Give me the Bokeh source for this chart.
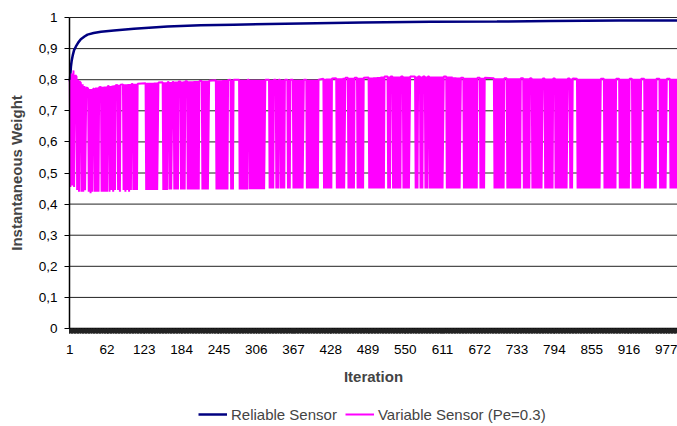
from bokeh.plotting import figure
from bokeh.models import FixedTicker, Range1d, Legend, LegendItem
from bokeh.embed import file_html
from bokeh.resources import INLINE

# ---- data ----
x_tick_labels = [1, 62, 123, 184, 245, 306, 367, 428, 489, 550, 611, 672, 733, 794, 855, 916, 977]
y_ticks = [0, 0.1, 0.2, 0.3, 0.4, 0.5, 0.6, 0.7, 0.8, 0.9, 1.0]
y_tick_labels = ["0", "0,1", "0,2", "0,3", "0,4", "0,5", "0,6", "0,7", "0,8", "0,9", "1"]
n_iterations = 1000

rel_iter = [1, 2, 3, 4, 6, 8, 11, 15, 19, 25, 30, 40, 52, 73, 106, 161, 215, 269, 379, 480, 592, 700, 788, 900, 1000]
rel_val = [0.795, 0.82, 0.845, 0.86, 0.88, 0.895, 0.907, 0.92, 0.93, 0.939, 0.945, 0.95, 0.954, 0.958, 0.964,
           0.971, 0.975, 0.977, 0.981, 0.984, 0.986, 0.987, 0.989, 0.99, 0.99]

var_points = [
    (1, .80), (2, .455), (4, .82), (5, .46), (7, .83), (8, .455), (10, .815),
    (12, .81), (13, .445), (15, .80), (16, .44), (17, .795),
    (19, .79), (20, .44), (22, .785), (23, .44), (25, .78), (26, .445), (28, .775),
    (31, .772), (32, .44), (34, .77), (35, .435), (37, .77), (38, .44), (39, .77),
    (41, .772), (42, .44), (44, .775), (45, .44), (47, .775), (48, .44), (49, .776),
    (52, .777), (53, .44), (55, .777), (56, .44), (58, .778), (59, .44), (61, .778), (62, .44), (63, .779),
    (65, .78), (66, .44), (68, .78), (69, .445), (71, .781), (72, .44), (74, .782), (75, .445), (76, .782),
    (79, .783), (80, .445), (82, .784), (83, .44), (84, .784),
    (88, .785), (89, .445), (91, .785), (92, .44), (94, .785), (95, .445), (97, .786), (98, .44), (100, .786), (101, .445), (102, .786),
    (104, .786), (105, .445), (107, .787), (108, .445), (110, .787), (111, .445), (112, .787),
    (125, .789), (126, .445), (128, .79), (129, .445), (131, .79), (132, .445), (134, .79), (135, .445), (137, .79), (138, .445),
    (140, .791), (141, .445), (143, .791), (144, .445), (146, .791),
    (153, .792), (154, .445), (156, .792), (157, .445), (159, .792), (160, .445), (161, .792),
    (163, .793), (164, .447), (166, .793), (167, .447), (169, .793),
    (171, .793), (172, .447), (174, .794), (175, .447), (177, .794), (178, .447), (179, .794),
    (182, .794), (183, .447), (185, .794), (186, .447), (188, .795), (189, .447), (190, .795),
    (193, .795), (194, .447), (196, .795), (197, .447), (199, .795), (200, .447), (202, .795), (203, .447), (205, .796), (206, .447),
    (208, .796), (209, .447), (211, .796), (212, .447), (213, .796),
    (217, .796), (218, .447), (220, .797), (221, .447), (223, .797), (224, .447), (226, .797), (227, .447), (229, .797),
    (240, .798), (241, .447), (243, .798), (244, .447), (246, .798), (247, .447), (249, .798), (250, .447), (252, .799), (253, .447),
    (255, .799), (256, .447), (258, .799), (259, .447), (260, .799),
    (264, .80), (265, .447), (267, .80), (268, .447), (269, .80),
    (278, .80), (279, .447), (281, .80), (282, .447), (284, .80), (285, .447), (287, .80), (288, .447), (290, .80), (291, .447), (292, .80),
    (294, .80), (295, .448), (297, .80), (298, .448), (300, .80), (301, .448), (303, .80), (304, .448), (306, .80), (307, .448),
    (309, .80), (310, .448), (312, .80), (313, .448), (315, .80), (316, .448), (318, .80), (319, .448), (321, .80),
    (327, .80), (328, .45), (330, .80), (331, .45), (333, .80), (334, .45), (335, .80),
    (338, .80), (339, .45), (341, .80), (342, .45), (343, .80),
    (345, .80), (346, .45), (348, .80), (349, .45), (351, .80), (352, .45), (353, .80),
    (357, .80), (358, .45), (360, .80), (361, .45), (362, .80),
    (366, .80), (367, .45), (369, .80), (370, .45), (372, .80), (373, .45), (375, .80), (376, .45), (378, .80), (379, .45),
    (381, .80), (382, .45), (384, .80), (388, .80), (389, .45), (391, .80), (392, .45), (394, .80), (395, .45), (397, .80),
    (398, .45), (400, .80), (401, .45), (403, .80), (404, .45), (406, .80), (407, .45), (408, .80),
    (416, .803), (417, .45), (419, .803), (420, .45), (422, .804), (423, .45), (425, .804), (426, .45), (428, .804), (429, .45), (430, .804),
    (437, .805), (438, .45), (440, .805), (441, .45), (443, .805), (444, .45), (446, .805), (447, .45), (449, .806), (450, .45), (452, .806),
    (456, .806), (457, .45), (459, .806), (460, .45), (462, .806), (463, .45), (465, .806), (466, .45), (467, .806),
    (471, .806), (472, .45), (474, .806), (475, .45), (477, .806), (478, .45), (480, .806), (481, .45), (482, .806),
    (490, .807), (491, .45), (493, .807), (494, .45), (496, .807), (497, .45), (499, .808), (500, .45), (502, .808), (503, .45),
    (505, .809), (506, .45), (508, .809), (509, .45), (511, .81), (512, .45), (514, .81), (515, .45), (516, .81),
    (521, .81), (522, .45), (524, .81), (525, .45), (526, .81),
    (529, .81), (530, .45), (532, .81), (533, .45), (535, .81), (536, .45), (538, .81), (539, .45), (541, .81), (542, .45), (543, .81),
    (546, .81), (547, .45), (549, .81), (550, .45), (552, .81), (553, .45), (555, .81), (556, .45), (558, .81),
    (566, .81), (567, .45), (569, .81), (570, .45), (571, .81),
    (574, .81), (575, .45), (577, .81), (578, .45), (579, .81),
    (582, .81), (583, .45), (585, .81), (586, .45), (587, .81),
    (589, .81), (590, .45), (592, .81), (593, .45), (595, .81), (596, .45), (598, .81), (599, .45), (601, .81), (602, .45),
    (604, .81), (605, .45), (607, .81), (608, .45), (610, .81), (611, .45), (613, .81), (617, .81), (618, .45), (620, .81),
    (621, .45), (623, .81), (624, .45), (626, .81), (627, .45), (629, .808), (630, .45), (632, .808), (633, .45), (635, .807),
    (636, .45), (638, .807), (639, .45), (641, .806),
    (645, .806), (646, .45), (648, .806), (649, .45), (651, .806), (652, .45), (654, .806), (655, .45), (657, .806), (658, .45),
    (660, .806), (661, .45), (663, .806), (664, .45), (666, .806), (667, .45), (668, .806), (672, .806), (673, .45), (675, .806),
    (676, .45), (678, .806), (679, .45), (680, .806),
    (695, .805), (696, .45), (698, .805), (699, .45), (701, .805), (702, .45), (704, .805), (705, .45), (707, .805), (708, .45),
    (710, .805), (711, .45), (712, .805), (716, .805), (717, .45), (719, .805), (720, .45), (722, .805), (723, .45), (725, .805),
    (726, .45), (728, .805), (729, .45), (731, .805), (732, .45), (734, .805), (735, .45), (737, .805), (738, .45), (739, .805),
    (743, .805), (744, .45), (746, .805), (747, .45), (749, .805), (750, .45), (752, .805), (753, .45), (754, .805),
    (757, .804), (758, .45), (760, .804), (761, .45), (763, .804), (764, .45), (766, .804), (767, .45), (769, .804), (770, .45),
    (772, .804), (773, .45), (775, .804),
    (778, .804), (779, .45), (781, .804), (782, .45), (784, .804), (785, .45), (787, .804), (788, .45), (790, .804), (791, .45), (792, .804),
    (795, .804), (796, .45), (798, .804), (799, .45), (801, .804), (802, .45), (804, .804), (805, .45), (807, .804), (808, .45),
    (810, .804), (811, .45), (813, .804), (814, .45), (816, .804),
    (819, .804), (820, .45), (822, .804), (823, .45), (824, .804),
    (831, .803), (832, .45), (834, .803), (835, .45), (837, .803), (838, .45), (840, .803), (841, .45), (843, .803), (844, .45),
    (846, .803), (847, .45), (849, .803), (850, .45), (852, .803), (853, .45), (855, .803), (856, .45), (858, .803), (859, .45),
    (861, .803), (862, .45), (864, .803), (865, .45), (867, .803), (868, .45), (870, .803),
    (875, .803), (876, .45), (878, .803), (879, .45), (881, .803), (882, .45), (884, .803), (885, .45), (887, .803), (888, .45),
    (890, .803), (891, .45), (893, .803), (894, .45), (895, .803),
    (900, .803), (901, .45), (903, .803), (904, .45), (906, .803), (907, .45), (909, .803), (910, .45), (912, .803), (913, .45),
    (915, .803), (916, .45), (917, .803),
    (921, .803), (922, .45), (924, .803), (925, .45), (927, .803), (928, .45), (930, .803), (931, .45), (933, .803), (934, .45), (936, .803),
    (941, .803), (942, .45), (944, .803), (945, .45), (947, .803), (948, .45), (950, .803), (951, .45), (953, .803), (954, .45),
    (956, .803), (957, .45), (959, .803), (960, .45), (961, .803),
    (966, .803), (967, .45), (969, .803), (970, .45), (972, .803), (973, .45), (975, .803), (976, .45), (978, .803),
    (983, .803), (984, .45), (986, .803), (987, .45), (989, .803), (990, .45), (992, .803), (993, .45), (995, .803), (996, .45),
    (998, .803), (1000, .803),
]
var_iter = [pt[0] for pt in var_points]
var_val = [pt[1] for pt in var_points]

# ---- figure ----
FONT = "Liberation Sans"
X_LO, X_HI = 0.5, 995.5          # visible part of the category axis
# the frame covers the whole canvas; axes are fixed inside it so nothing is clipped
p = figure(width=677, height=426, output_backend="svg", toolbar_location=None,
           x_range=Range1d(-112.42, X_HI), y_range=Range1d(-0.3151, 1.0547),
           min_border_left=0, min_border_right=0, min_border_top=0, min_border_bottom=0)
p.outline_line_color = None
p.background_fill_color = "white"
p.border_fill_color = "white"

# horizontal gridlines limited to the plot area
p.xgrid.grid_line_color = None
p.ygrid.grid_line_color = None
p.segment(x0=[X_LO] * len(y_ticks), y0=y_ticks, x1=[X_HI] * len(y_ticks), y1=y_ticks,
          line_color="#222222", line_width=1)

r1 = p.line(rel_iter, rel_val, line_color="#000080", line_width=2.5)
r2 = p.line(var_iter, var_val, line_color="#FF00FF", line_width=2)

# x axis, fixed at value 0
p.xaxis.fixed_location = 0
p.xaxis.bounds = (X_LO, X_HI)
p.xaxis.ticker = FixedTicker(ticks=x_tick_labels, minor_ticks=list(range(1, n_iterations + 1)))
p.xaxis.axis_label = "Iteration"
p.xaxis.axis_label_text_font = FONT
p.xaxis.axis_label_text_font_style = "bold"
p.xaxis.axis_label_text_font_size = "15px"
p.xaxis.axis_label_standoff = 11
p.xaxis.major_label_text_font = FONT
p.xaxis.major_label_text_font_size = "13.5px"
p.xaxis.major_label_text_color = "black"
p.xaxis.major_label_standoff = 11
p.xaxis.axis_line_color = "black"
p.xaxis.axis_line_width = 1.5
p.xaxis.major_tick_in = 0
p.xaxis.major_tick_out = 5
p.xaxis.major_tick_line_color = "#222222"
p.xaxis.minor_tick_in = 0
p.xaxis.minor_tick_out = 5
p.xaxis.minor_tick_line_color = "#222222"
p.xaxis.minor_tick_line_width = 1

# y axis, fixed at the left edge of the plot area
p.yaxis.fixed_location = X_LO
p.yaxis.bounds = (0, 1)
p.yaxis.ticker = FixedTicker(ticks=y_ticks, minor_ticks=[])
p.yaxis.major_label_overrides = {t: l for t, l in zip(y_ticks, y_tick_labels)}
p.yaxis.axis_label = "Instantaneous Weight"
p.yaxis.axis_label_text_font = FONT
p.yaxis.axis_label_text_font_style = "bold"
p.yaxis.axis_label_text_font_size = "15px"
p.yaxis.axis_label_standoff = 11
p.yaxis.major_label_text_font = FONT
p.yaxis.major_label_text_font_size = "13.5px"
p.yaxis.major_label_text_color = "black"
p.yaxis.major_label_standoff = 7
p.yaxis.axis_line_color = "black"
p.yaxis.axis_line_width = 1.5
p.yaxis.major_tick_in = 0
p.yaxis.major_tick_out = 5
p.yaxis.major_tick_line_color = "black"

legend = Legend(items=[LegendItem(label="Reliable Sensor", renderers=[r1]),
                       LegendItem(label="Variable Sensor (Pe=0.3)", renderers=[r2])],
                orientation="horizontal", location=(198, 2),
                label_text_font=FONT, label_text_font_size="15px",
                glyph_width=29, label_standoff=4, spacing=8,
                border_line_color=None, background_fill_alpha=0,
                padding=2, margin=0)
p.add_layout(legend, "center")

open("out.html", "w").write(file_html(p, INLINE))
